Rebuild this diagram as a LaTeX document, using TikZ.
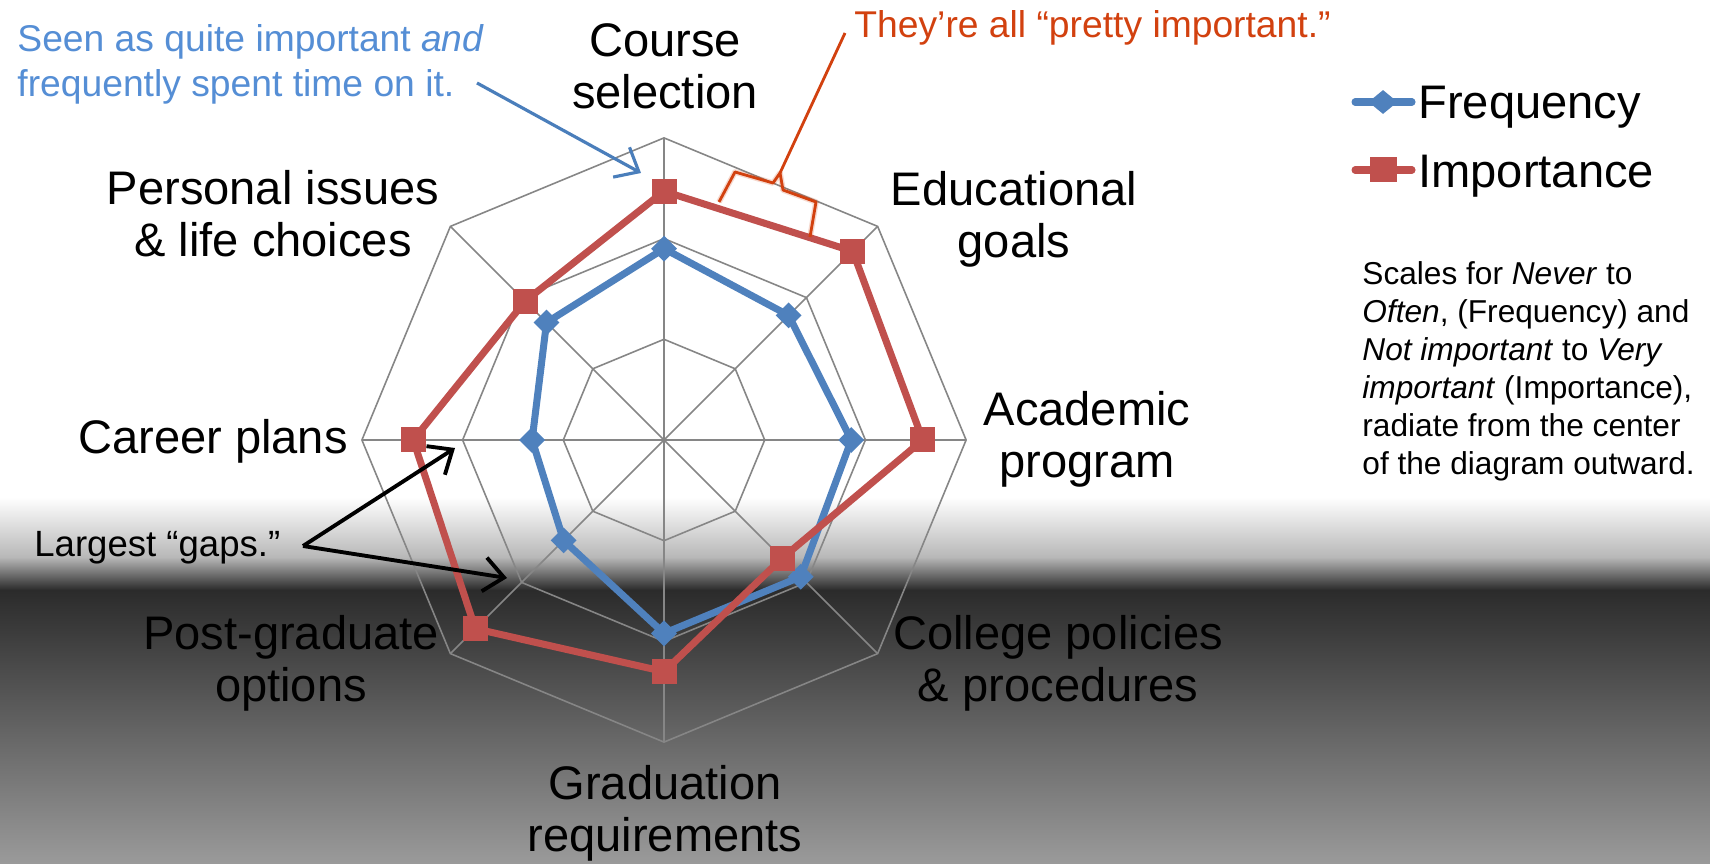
\documentclass[tikz,border=0pt]{standalone}
\usepackage{fontspec}
\setmainfont{Liberation Sans}
\usetikzlibrary{arrows.meta,shapes.geometric}
\definecolor{freqblue}{RGB}{79,129,189}
\definecolor{impred}{RGB}{192,80,77}
\definecolor{noteblue}{RGB}{85,142,213}
\definecolor{arrowblue}{RGB}{74,126,187}
\definecolor{noteorange}{RGB}{210,65,15}
\definecolor{gridgray}{RGB}{134,134,134}
\definecolor{bgmid}{RGB}{184,184,184}
\definecolor{bgdark}{RGB}{43,43,43}
\definecolor{bglow}{RGB}{154,154,154}

\begin{document}
\begin{tikzpicture}[thick,
		axis label/.style={align=center,inner sep=0pt,font=\fontsize{13.4}{14.8}\selectfont},
		freq mark/.style={diamond,fill=freqblue,inner sep=0pt,minimum size=0.27cm},
		imp mark/.style={rectangle,fill=impred,inner sep=0pt,minimum size=0.25cm},
		grid line/.style={gridgray,line width=0.45pt},
		freq line/.style={freqblue,line width=2pt,line join=round},
		imp line/.style={impred,line width=2pt,line join=round},
		note/.style={inner sep=0pt,font=\fontsize{10.6}{12.8}\selectfont},
		gap arrow/.style={black,line width=1.1pt,-{Straight Barb[length=2mm,width=3.4mm]}}]
		\useasboundingbox (0,0) rectangle (17.1,8.63);
		\fill[white] (0,0) rectangle (17.1,8.63);
		\shade[top color=white,bottom color=bgmid] (0,3.06) rectangle (17.1,3.66);
		\shade[top color=bgmid,bottom color=bgdark] (0,2.73) rectangle (17.1,3.06);
		\shade[top color=bgdark,bottom color=bglow] (0,0) rectangle (17.1,2.73);

		\begin{scope}[shift={(6.64,4.23)},scale=1.007]
		\foreach \r in {1,2,3}
			\draw[grid line] (90:\r) -- (45:\r) -- (0:\r) -- (-45:\r) -- (-90:\r) -- (-135:\r) -- (180:\r) -- (135:\r) -- cycle;
		\foreach \a in {0,45,...,315}
			\draw[grid line] (0,0) -- (\a:3);
		\foreach \a/\f/\i [count=\k] in {90/1.90/2.47,45/1.75/2.65,0/1.86/2.57,-45/1.92/1.66,-90/1.92/2.30,-135/1.41/2.65,180/1.31/2.49,135/1.65/1.95}{
			\coordinate (f\k) at (\a:\f);
			\coordinate (i\k) at (\a:\i);
		}
		\end{scope}

		\draw[freq line] (f1) -- (f2) -- (f3) -- (f4) -- (f5) -- (f6) -- (f7) -- (f8) -- cycle;
		\foreach \k in {1,...,8}
			\node[freq mark] (fm\k) at (f\k) {};
		\draw[imp line] (i1) -- (i2) -- (i3) -- (i4) -- (i5) -- (i6) -- (i7) -- (i8) -- cycle;
		\foreach \k in {1,...,8}
			\node[imp mark] (im\k) at (i\k) {};

		\node[axis label] (course) at (6.65,7.97) {Course\\selection};
		\node[axis label] (goals) at (10.14,6.44) {Educational\\goals};
		\node[axis label] (academic) at (10.87,4.24) {Academic\\program};
		\node[axis label] (policies) at (10.58,2.00) {College policies\\\& procedures};
		\node[axis label] (graduation) at (6.65,0.50) {Graduation\\requirements};
		\node[axis label] (postgrad) at (2.91,2.00) {Post-graduate\\options};
		\node[axis label] (career) at (2.13,4.22) {Career plans};
		\node[axis label] (personal) at (2.73,6.49) {Personal issues\\\& life choices};

		% legend
		\coordinate (fl a) at (13.55,7.61);
		\coordinate (fl b) at (14.12,7.61);
		\coordinate (il a) at (13.55,6.93);
		\coordinate (il b) at (14.12,6.93);
		\draw[freqblue,line width=2pt,line cap=round] (fl a) -- (fl b);
		\node[freq mark,minimum width=0.30cm,minimum height=0.25cm] (fleg) at (13.83,7.61) {};
		\draw[impred,line width=2pt,line cap=round] (il a) -- (il b);
		\node[imp mark,minimum width=0.27cm] (ileg) at (13.83,6.93) {};
		\node[axis label,anchor=base west] (freq text) at (14.17,7.44) {Frequency};
		\node[axis label,anchor=base west] (imp text) at (14.17,6.75) {Importance};

		\node[anchor=north west,inner sep=0pt,align=left,font=\fontsize{9}{10.8}\selectfont] (scales) at (13.61,6.03)
			{Scales for \emph{Never} to\\\emph{Often}, (Frequency) and\\\emph{Not important} to \emph{Very}\\\emph{important} (Importance),\\radiate from the center\\of the diagram outward.};

		% notes
		\node[note,text=noteblue,anchor=north west,align=left] (seen) at (0.16,8.40)
			{Seen as quite important \emph{and}\\frequently spent time on it.};
		\coordinate (seen from) at (4.77,7.80);
		\coordinate (seen tip) at (6.41,6.90);
		\draw[arrowblue,line width=0.9pt,-{Straight Barb[length=2mm,width=3.4mm]}] (seen from) -- (seen tip);

		\node[note,text=noteorange,anchor=base west] (pretty) at (8.53,8.25) {They’re all “pretty important.”};
		\coordinate (brace tip) at (7.80,6.90);
		\draw[noteorange,opacity=0.2,line width=1.6pt,line join=round] (7.19,6.61) -- (7.35,6.91) -- (7.73,6.80) -- (brace tip) -- (7.83,6.73) -- (8.16,6.61) -- (8.10,6.26);
		\draw[noteorange,line width=0.8pt,line join=round] (7.19,6.61) -- (7.35,6.91) -- (7.73,6.80) -- (brace tip) -- (7.83,6.73) -- (8.16,6.61) -- (8.10,6.26);
		\draw[noteorange,line width=0.8pt] (brace tip) -- ([shift={(-0.08,0.05)}]pretty.base west);

		\node[note,anchor=base west,font=\fontsize{10.4}{12}\selectfont] (gaps) at (0.33,3.07) {Largest “gaps.”};
		\coordinate (gaps from) at (3.03,3.17);
		\coordinate (gap career) at (4.55,4.15);
		\coordinate (gap post) at (5.07,2.85);
		\draw[gap arrow] (gaps from) -- (gap career);
		\draw[gap arrow] (gaps from) -- (gap post);
\end{tikzpicture}
\end{document}
